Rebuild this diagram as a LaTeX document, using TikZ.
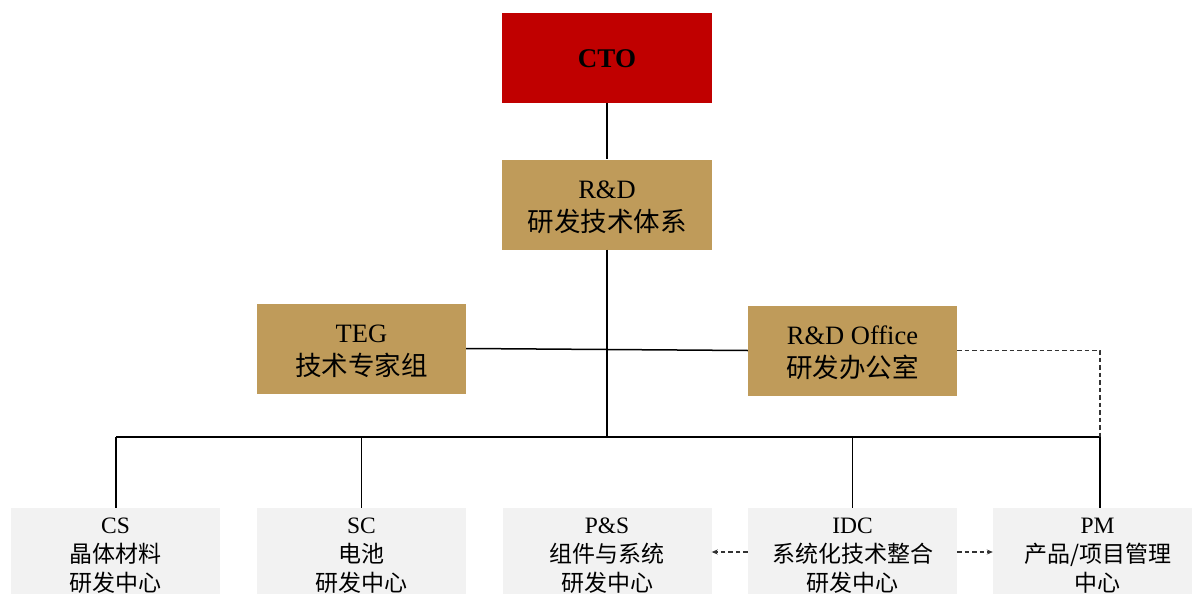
\documentclass[tikz,border=0pt]{standalone}
\usepackage{fontspec}
\setmainfont{Liberation Serif}
\newfontfamily\cjk{Noto Sans CJK SC}
\usetikzlibrary{arrows.meta}
\definecolor{ctored}{HTML}{C00000}
\definecolor{gold}{HTML}{BF9B5A}
\definecolor{lgray}{HTML}{F2F2F2}
\definecolor{dashc}{HTML}{333333}
\newcommand{\CU}[1]{{\cjk\fontsize{26.5}{33}\selectfont #1}}
\newcommand{\CB}[1]{{\cjk\fontsize{23}{29}\selectfont #1}}
\newcommand{\TSU}{\rule{0pt}{24pt}}
\newcommand{\TSB}{\rule{0pt}{21.5pt}}
\tikzset{
  box/.style={inner sep=0pt, align=center, text=black},
  topbox/.style={box, minimum width=210pt, minimum height=90pt, font=\fontsize{26.5}{33}\selectfont},
  goldbox/.style={topbox, fill=gold},
  lowbox/.style={box, fill=lgray, minimum width=209pt, minimum height=90pt, font=\fontsize{23.5}{29}\selectfont},
  link/.style={line width=1.5pt, black},
  dlink/.style={line width=1.6pt, dashc, dash pattern=on 4.5pt off 3pt},
  darr/.style={dlink, -{Stealth[length=6pt,width=5pt]}}
}
\begin{document}
\begin{tikzpicture}[x=1pt,y=-1pt]
\useasboundingbox (0,0) rectangle (1192,594);
\clip (0,0) rectangle (1192,594);
\node[topbox, fill=ctored, font=\fontsize{27}{33}\selectfont\bfseries] (cto) at (607,58) {\rule{0pt}{20pt}CTO};
\node[goldbox] (rd) at (607,204.5) {\TSU R\&D\\\CU{研发技术体系}};
\node[goldbox, minimum width=209pt] (teg) at (361.5,348.5) {\TSU TEG\\\CU{技术专家组}};
\node[goldbox, minimum width=209pt] (off) at (852.5,350.5) {\TSU R\&D Office\\\CU{研发办公室}};
\node[lowbox] (cs) at (115.5,553) {\TSB CS\\\CB{晶体材料}\\\CB{研发中心}};
\node[lowbox] (sc) at (361.5,553) {\TSB SC\\\CB{电池}\\\CB{研发中心}};
\node[lowbox] (ps) at (607,553) {\TSB P\&S\\\CB{组件与系统}\\\CB{研发中心}};
\node[lowbox] (idc) at (852.5,553) {\TSB IDC\\\CB{系统化技术整合}\\\CB{研发中心}};
\node[lowbox] (pm) at (1097.5,553) {\TSB PM\\\CB{产品/项目管理}\\\CB{中心}};
\coordinate (bl) at (116,437);
\coordinate (br) at (1100,437);
\coordinate (bm) at (607,437);
\draw[link] (cto) -- (rd);
\draw[link] (teg.east) -- (off.west);
\draw[link] (rd.south) -- (bm);
\draw[link] (bl) -- (br);
\draw[link] (bl) -- (bl |- cs.north);
\draw[link] (sc.north |- bl) -- (sc.north);
\draw[link] (idc.north |- bl) -- (idc.north);
\draw[link] (br) -- (br |- pm.north);
\draw[dlink] (off.east) -| (br);
\draw[darr] ([yshift=1pt]idc.west) -- ([yshift=1pt]ps.east);
\draw[darr] ([yshift=1pt]idc.east) -- ([yshift=1pt]pm.west);
\end{tikzpicture}
\end{document}
